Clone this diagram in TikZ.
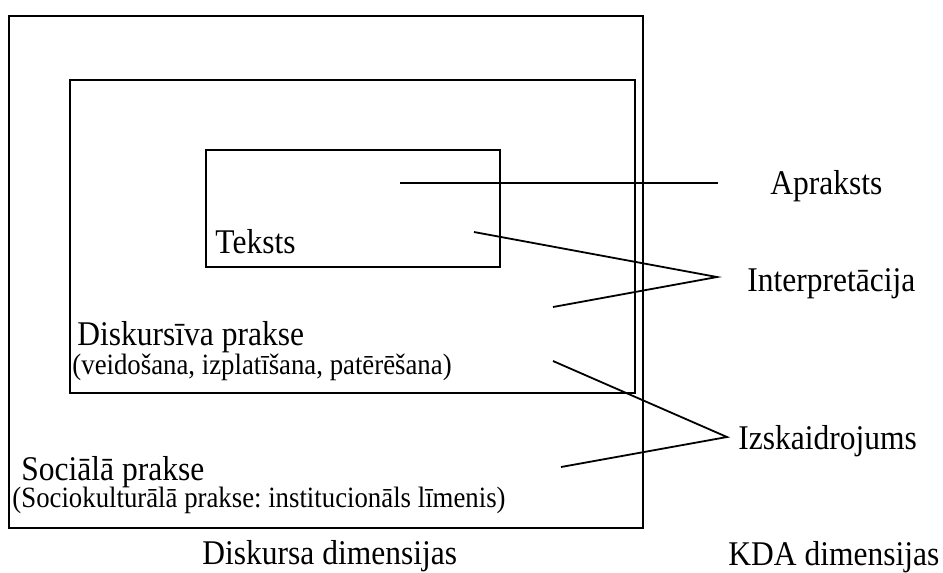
\documentclass[tikz,border=0pt]{standalone}
\usepackage{fontspec}
\setmainfont{Liberation Serif}
\frenchspacing
\newcommand{\vstretch}[1]{\scalebox{1}[1.1]{#1}}
\begin{document}
\begin{tikzpicture}[x=0.4444pt,y=-0.4444pt,
  boxline/.style={draw, line width=0.8pt},
  conn/.style={line width=0.8pt},
  big/.style={inner sep=0pt, anchor=base west, font=\fontsize{14}{16}\selectfont},
  small/.style={inner sep=0pt, anchor=base west, font=\fontsize{11.9}{14}\selectfont}]
\useasboundingbox (0,0) rectangle (943,572);

% boxes
\coordinate (outerNW) at (9,16);   \coordinate (outerSE) at (643,528);
\coordinate (midNW) at (70,80);    \coordinate (midSE) at (635,393);
\coordinate (innNW) at (206,150);  \coordinate (innSE) at (500,267);
\draw[boxline] (outerNW) rectangle (outerSE);
\draw[boxline] (midNW) rectangle (midSE);
\draw[boxline] (innNW) rectangle (innSE);

% texts inside boxes
\node[big] (teksts) at (215,253) {\vstretch{Teksts}};
\node[big] (disk) at (77,345) {\vstretch{Diskursīva prakse}};
\node[small] (disksub) at (72,374) {\vstretch{(veidošana, izplatīšana, patērēšana)}};
\node[big] (soc) at (21,480) {\vstretch{Sociālā prakse}};
\node[small] (socsub) at (12,507) {\vstretch{(Sociokulturālā prakse: institucionāls līmenis)}};

% right labels
\node[big] (apr) at (770,194) {\vstretch{Apraksts}};
\node[big] (interp) at (747,291) {\vstretch{Interpretācija}};
\node[big] (izsk) at (738,449) {\vstretch{Izskaidrojums}};

% bottom labels
\node[big] (diskdim) at (202,564) {\vstretch{Diskursa dimensijas}};
\node[big] (kdadim) at (728,565) {\vstretch{KDA dimensijas}};

% connector points
\coordinate (aprS) at (400,183);  \coordinate (aprE) at (718,183);
\coordinate (intA) at (474,232);  \coordinate (intV) at (717,277); \coordinate (intB) at (553,307);
\coordinate (izA) at (553,361);   \coordinate (izV) at (727,437);  \coordinate (izB) at (561,467);

\draw[conn] (aprS) -- (aprE);
\draw[conn] (intA) -- (intV) -- (intB);
\draw[conn] (izA) -- (izV) -- (izB);
\end{tikzpicture}
\end{document}
